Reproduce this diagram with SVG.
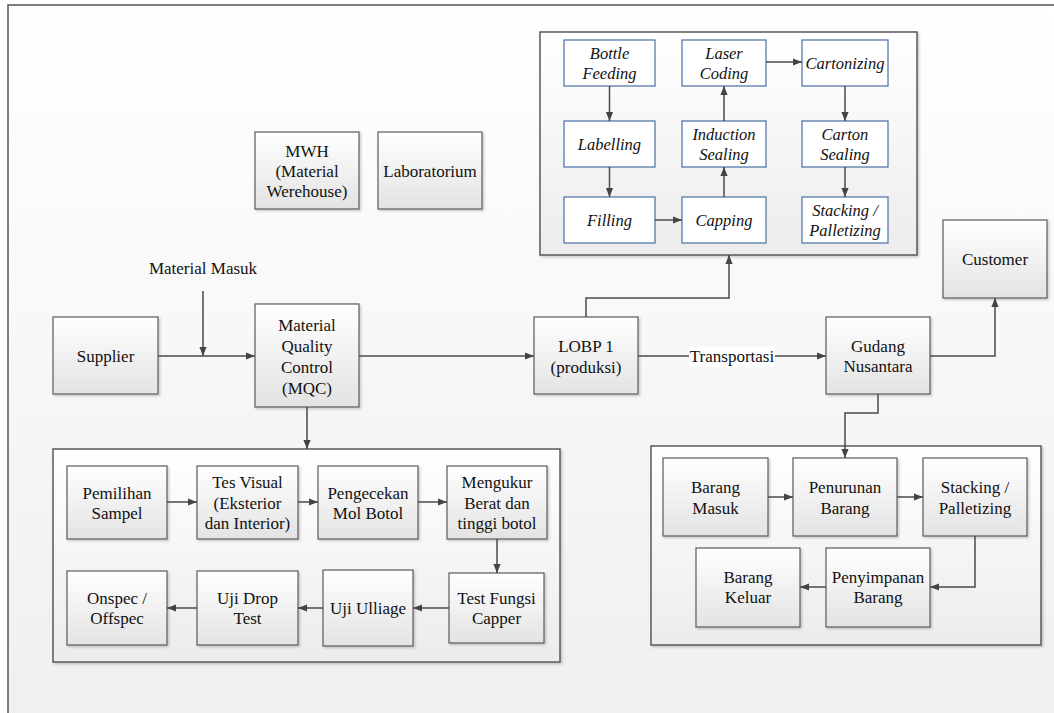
<svg xmlns="http://www.w3.org/2000/svg" width="1054" height="713" viewBox="0 0 1054 713" font-family="Liberation Serif">
<defs>
<linearGradient id="bg" x1="0" y1="0" x2="0" y2="1"><stop offset="0" stop-color="#ffffff"/><stop offset="1" stop-color="#efefef"/></linearGradient>
<linearGradient id="box" x1="0" y1="0" x2="0" y2="1"><stop offset="0" stop-color="#ffffff"/><stop offset="1" stop-color="#e3e3e3"/></linearGradient>
<linearGradient id="cont" x1="0" y1="0" x2="0" y2="1"><stop offset="0" stop-color="#ffffff"/><stop offset="1" stop-color="#ececec"/></linearGradient>
<filter id="sh" x="-10%" y="-10%" width="125%" height="125%"><feDropShadow dx="1.5" dy="1.5" stdDeviation="1" flood-color="#000" flood-opacity="0.2"/></filter>
<marker id="ah" viewBox="0 0 10 10" refX="10" refY="5" markerWidth="9" markerHeight="9" markerUnits="userSpaceOnUse" orient="auto"><path d="M0,1 L10,5 L0,9 Z" fill="#444"/></marker>
</defs>
<style>
.b{fill:url(#box);stroke:#5a5a5a;stroke-width:1.2;filter:url(#sh)}
.c{fill:url(#cont);stroke:#5a5a5a;stroke-width:1.5;filter:url(#sh)}
.p{fill:#ffffff;stroke:#4a6ea8;stroke-width:1.2}
.t{font-family:"Liberation Serif","Times New Roman",serif;font-size:17px;fill:#111;text-anchor:middle}
.i{font-style:italic;font-size:16.5px}
.l{fill:none;stroke:#4a4a4a;stroke-width:1.5;marker-end:url(#ah)}
</style>
<rect x="0" y="0" width="1054" height="713" fill="#ffffff"/>
<rect x="8" y="5" width="1060" height="720" fill="url(#bg)" stroke="#555" stroke-width="1.5"/>

<g id="production">
<rect class="c" x="540" y="32" width="377" height="223"/>
<g id="bottle-feeding"><rect class="p" x="564" y="40" width="91" height="46"/><text class="t i" x="609.5" y="59">Bottle</text><text class="t i" x="609.5" y="79">Feeding</text></g>
<g id="laser-coding"><rect class="p" x="682" y="40" width="84" height="46"/><text class="t i" x="724" y="59">Laser</text><text class="t i" x="724" y="79">Coding</text></g>
<g id="cartonizing"><rect class="p" x="802" y="40" width="86" height="46"/><text class="t i" x="845" y="69">Cartonizing</text></g>
<g id="labelling"><rect class="p" x="564" y="121" width="91" height="46"/><text class="t i" x="609.5" y="150">Labelling</text></g>
<g id="induction-sealing"><rect class="p" x="682" y="121" width="84" height="46"/><text class="t i" x="724" y="140">Induction</text><text class="t i" x="724" y="160">Sealing</text></g>
<g id="carton-sealing"><rect class="p" x="802" y="121" width="86" height="46"/><text class="t i" x="845" y="140">Carton</text><text class="t i" x="845" y="160">Sealing</text></g>
<g id="filling"><rect class="p" x="564" y="197" width="91" height="46"/><text class="t i" x="609.5" y="226">Filling</text></g>
<g id="capping"><rect class="p" x="682" y="197" width="84" height="46"/><text class="t i" x="724" y="226">Capping</text></g>
<g id="stacking-prod"><rect class="p" x="802" y="197" width="86" height="46"/><text class="t i" x="845" y="216">Stacking /</text><text class="t i" x="845" y="236">Palletizing</text></g>
</g>

<g id="mwh"><rect class="b" x="255" y="132" width="104" height="77"/><text class="t" x="307" y="157">MWH</text><text class="t" x="307" y="177">(Material</text><text class="t" x="307" y="197">Werehouse)</text></g>
<g id="laboratorium"><rect class="b" x="378" y="132" width="104" height="77"/><text class="t" x="430" y="177">Laboratorium</text></g>

<text class="t" x="203" y="274">Material Masuk</text>

<g id="supplier"><rect class="b" x="53" y="317" width="105" height="77"/><text class="t" x="105.5" y="362">Supplier</text></g>
<g id="mqc"><rect class="b" x="255" y="304" width="104" height="103"/><text class="t" x="307" y="331">Material</text><text class="t" x="307" y="352">Quality</text><text class="t" x="307" y="373">Control</text><text class="t" x="307" y="394">(MQC)</text></g>
<g id="lobp"><rect class="b" x="534" y="317" width="104" height="77"/><text class="t" x="586" y="352">LOBP 1</text><text class="t" x="586" y="373">(produksi)</text></g>
<g id="gudang"><rect class="b" x="826" y="317" width="104" height="77"/><text class="t" x="878" y="352">Gudang</text><text class="t" x="878" y="372">Nusantara</text></g>
<g id="customer"><rect class="b" x="943" y="220" width="104" height="78"/><text class="t" x="995" y="265">Customer</text></g>

<g id="qc">
<rect class="c" x="53" y="449" width="507" height="213"/>
<g id="pemilihan"><rect class="b" x="67" y="466" width="100" height="73"/><text class="t" x="117" y="499">Pemilihan</text><text class="t" x="117" y="519">Sampel</text></g>
<g id="tes-visual"><rect class="b" x="197" y="466" width="101" height="73"/><text class="t" x="247.5" y="488">Tes Visual</text><text class="t" x="247.5" y="509">(Eksterior</text><text class="t" x="247.5" y="529">dan Interior)</text></g>
<g id="pengecekan"><rect class="b" x="318" y="466" width="100" height="73"/><text class="t" x="368" y="499">Pengecekan</text><text class="t" x="368" y="519">Mol Botol</text></g>
<g id="mengukur"><rect class="b" x="447" y="466" width="100" height="73"/><text class="t" x="497" y="488">Mengukur</text><text class="t" x="497" y="509">Berat dan</text><text class="t" x="497" y="529">tinggi botol</text></g>
<g id="onspec"><rect class="b" x="67" y="571" width="100" height="74"/><text class="t" x="117" y="604">Onspec /</text><text class="t" x="117" y="624">Offspec</text></g>
<g id="uji-drop"><rect class="b" x="197" y="571" width="101" height="74"/><text class="t" x="247.5" y="604">Uji Drop</text><text class="t" x="247.5" y="624">Test</text></g>
<g id="uji-ulliage"><rect class="b" x="323" y="570" width="90" height="76"/><text class="t" x="368" y="614">Uji Ulliage</text></g>
<g id="test-fungsi"><rect class="b" x="449" y="573" width="95" height="70"/><text class="t" x="496.5" y="604">Test Fungsi</text><text class="t" x="496.5" y="624">Capper</text></g>
</g>

<g id="warehouse">
<rect class="c" x="651" y="446" width="390" height="199"/>
<g id="barang-masuk"><rect class="b" x="663" y="458" width="105" height="78"/><text class="t" x="715.5" y="493">Barang</text><text class="t" x="715.5" y="514">Masuk</text></g>
<g id="penurunan"><rect class="b" x="793" y="458" width="104" height="78"/><text class="t" x="845" y="493">Penurunan</text><text class="t" x="845" y="514">Barang</text></g>
<g id="stacking-wh"><rect class="b" x="923" y="458" width="104" height="78"/><text class="t" x="975" y="493">Stacking /</text><text class="t" x="975" y="514">Palletizing</text></g>
<g id="barang-keluar"><rect class="b" x="696" y="548" width="104" height="79"/><text class="t" x="748" y="583">Barang</text><text class="t" x="748" y="603">Keluar</text></g>
<g id="penyimpanan"><rect class="b" x="826" y="548" width="104" height="79"/><text class="t" x="878" y="583">Penyimpanan</text><text class="t" x="878" y="603">Barang</text></g>
</g>

<g id="connectors">
<path class="l" d="M609.5,86 V121"/>
<path class="l" d="M609.5,167 V197"/>
<path class="l" d="M655,220 H682"/>
<path class="l" d="M724,197 V167"/>
<path class="l" d="M724,121 V86"/>
<path class="l" d="M766,62 H802"/>
<path class="l" d="M845,86 V121"/>
<path class="l" d="M845,167 V197"/>
<path class="l" d="M158,356 H255"/>
<path class="l" d="M203,291 V356"/>
<path class="l" d="M359,356 H534"/>
<path class="l" d="M307,407 V449"/>
<path class="l" d="M586,317 V298 H729 V255"/>
<path class="l" d="M638,356 H826"/>
<rect x="689" y="347" width="86" height="20" fill="#ffffff"/>
<text class="t" x="732" y="362">Transportasi</text>
<path class="l" d="M930,356 H995 V298"/>
<path class="l" d="M878,394 V413 H845 V458"/>
<path class="l" d="M167,502 H197"/>
<path class="l" d="M298,502 H318"/>
<path class="l" d="M418,502 H447"/>
<path class="l" d="M497,539 V573"/>
<path class="l" d="M449,608 H413"/>
<path class="l" d="M323,608 H298"/>
<path class="l" d="M197,608 H167"/>
<path class="l" d="M768,497 H793"/>
<path class="l" d="M897,497 H923"/>
<path class="l" d="M975,536 V587 H930"/>
<path class="l" d="M826,587 H800"/>
</g>
</svg>
